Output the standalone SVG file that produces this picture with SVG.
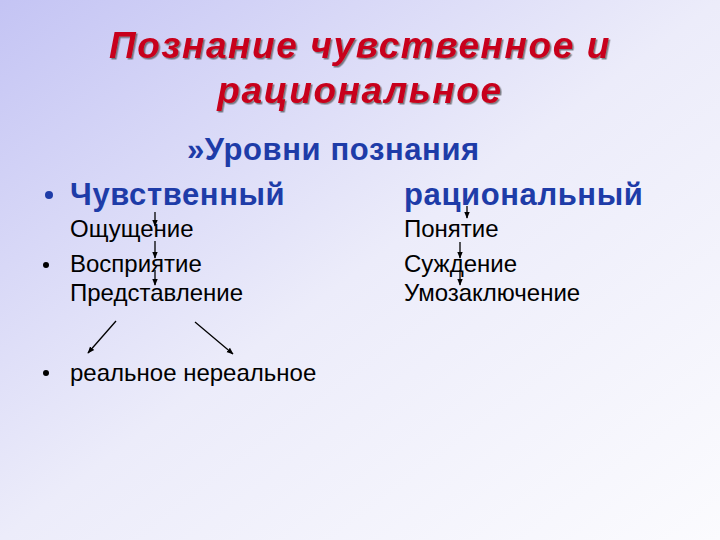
<svg xmlns="http://www.w3.org/2000/svg" width="720" height="540" viewBox="0 0 720 540">
<defs>
<linearGradient id="bg" x1="0" y1="0" x2="1" y2="1">
<stop offset="0" stop-color="#c4c4f4"/>
<stop offset="0.5" stop-color="#ececfa"/>
<stop offset="1" stop-color="#fbfbfe"/>
</linearGradient>
<marker id="ah" viewBox="0 0 10 10" refX="9" refY="5" markerWidth="7" markerHeight="7" orient="auto" markerUnits="userSpaceOnUse">
<path d="M0,1 L10,5 L0,9 z" fill="#000"/>
</marker>
<filter id="sh" x="-5%" y="-20%" width="110%" height="140%">
<feDropShadow dx="1.5" dy="1.5" stdDeviation="0.6" flood-color="#333" flood-opacity="0.6"/>
</filter>
</defs>
<style>
.title{font-family:"Liberation Sans",Arial,sans-serif;font-weight:bold;font-style:italic;font-size:37px;letter-spacing:1.6px;fill:#c8001a;text-anchor:middle}
.head{font-family:"Liberation Sans",Arial,sans-serif;font-weight:bold;font-size:31px;letter-spacing:0.6px;fill:#1e3ca8}
.item{font-family:"Liberation Sans",Arial,sans-serif;font-size:24px;fill:#000}
.conn line{stroke:#000;stroke-width:1.3;marker-end:url(#ah)}
</style>
<rect width="720" height="540" fill="url(#bg)"/>
<g id="title" filter="url(#sh)">
<text class="title" x="360" y="58">Познание чувственное и</text>
<text class="title" x="360" y="103">рациональное</text>
</g>
<g id="levels"><text class="head" x="187" y="160">»Уровни познания</text></g>
<g id="sensory"><circle cx="49" cy="195" r="4" fill="#1e3ca8"/><text class="head" x="70" y="205">Чувственный</text></g>
<g id="rational"><text class="head" x="404" y="205">рациональный</text></g>
<g id="n-oshch"><text class="item" x="70" y="237">Ощущение</text></g>
<g id="n-vospr"><circle cx="46" cy="265" r="3" fill="#000"/><text class="item" x="70" y="272">Восприятие</text></g>
<g id="n-predst"><text class="item" x="70" y="301">Представление</text></g>
<g id="n-pon"><text class="item" x="404" y="237">Понятие</text></g>
<g id="n-suzhd"><text class="item" x="404" y="272">Суждение</text></g>
<g id="n-umoz"><text class="item" x="404" y="301">Умозаключение</text></g>
<g id="n-real"><circle cx="46" cy="373" r="3" fill="#000"/><text class="item" x="70" y="381">реальное  нереальное</text></g>
<g class="conn" id="connectors">
<line x1="155" y1="212" x2="155" y2="226"/>
<line x1="155" y1="241" x2="155" y2="258"/>
<line x1="155" y1="270" x2="155" y2="285"/>
<line x1="467" y1="206" x2="467" y2="218"/>
<line x1="460" y1="242" x2="460" y2="258"/>
<line x1="460" y1="270" x2="460" y2="285"/>
<line x1="116" y1="321" x2="88" y2="353"/>
<line x1="195" y1="322" x2="233" y2="354"/>
</g>
</svg>
